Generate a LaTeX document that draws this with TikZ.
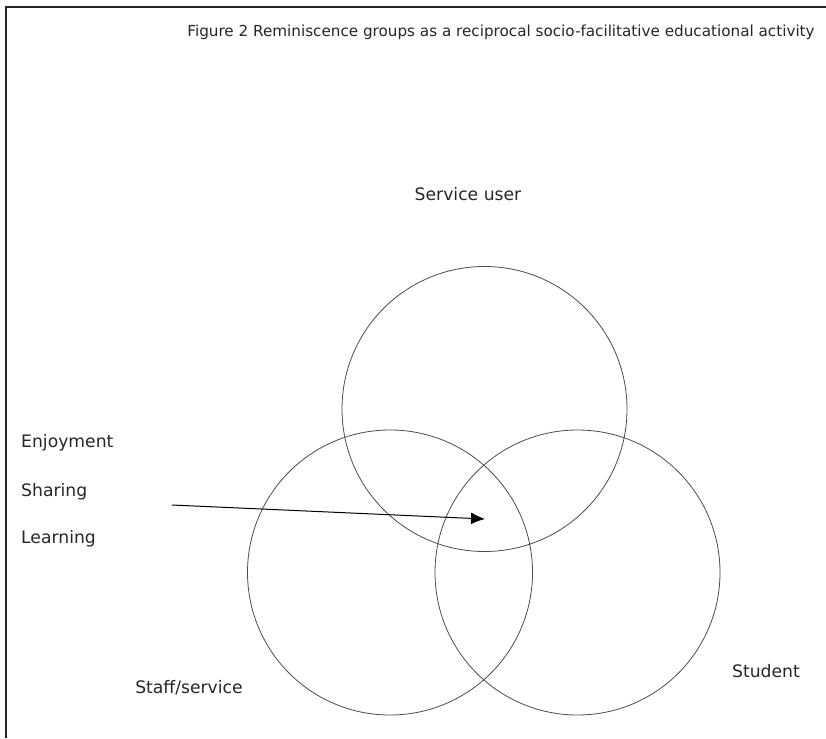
\documentclass[tikz,border=0pt]{standalone}
\usepackage{fontspec}
\setmainfont{DejaVu Sans}
\usetikzlibrary{arrows.meta}
\begin{document}
\begin{tikzpicture}[x=1pt,y=-1pt,
  venn/.style={circle,draw=black!70,line width=.8pt,minimum size=285pt,inner sep=0pt},
  lbl/.style={font=\fontsize{17.2}{19}\selectfont,text=black!85,inner sep=0pt}]
\useasboundingbox (0,0) rectangle (826,738);
\draw[line width=2pt,black!85] (826,7) -- (6,7) -- (6,738);
\node[lbl,anchor=base,font=\fontsize{15.2}{17}\selectfont] (title) at (501,37) {Figure 2 Reminiscence groups as a reciprocal socio-facilitative educational activity};
\node[venn] (user) at (484.5,409) {};
\node[venn] (staff) at (390,572.5) {};
\node[venn] (student) at (577.5,572.5) {};
\node[lbl,anchor=base] (userlbl) at (468,200) {Service user};
\node[lbl,anchor=base west] (joy) at (21,447) {Enjoyment};
\node[lbl,anchor=base west] (share) at (21,496) {Sharing};
\node[lbl,anchor=base west] (learn) at (21,543) {Learning};
\node[lbl,anchor=base] (stafflbl) at (189,693) {Staff/service};
\node[lbl,anchor=base] (studentlbl) at (766,677) {Student};
\coordinate (from) at (172,505);
\coordinate (to) at (485,519);
\draw[line width=1pt,-{Latex[length=14pt,width=12pt]}] (from) -- (to);
\end{tikzpicture}
\end{document}
